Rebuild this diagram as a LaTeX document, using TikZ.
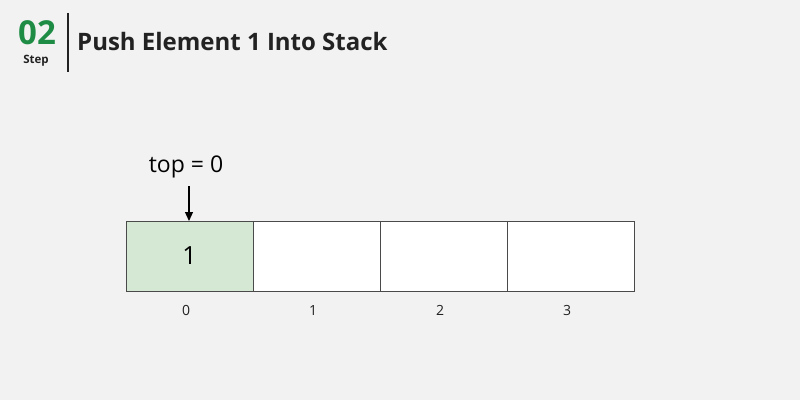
\documentclass[tikz,border=0pt]{standalone}
\usepackage{fontspec}
\setmainfont{Open Sans}
\usetikzlibrary{calc,arrows.meta}
\definecolor{bggray}{HTML}{F2F2F2}
\definecolor{stepgreen}{HTML}{1E8C45}
\definecolor{cellgreen}{HTML}{D5E8D4}
\definecolor{cellline}{HTML}{4A4A4A}
\definecolor{inktext}{HTML}{222222}
\tikzset{
  cell/.style={draw=cellline,line width=0.9pt,fill=white,minimum width=127pt,minimum height=70pt,inner sep=0pt,outer sep=0pt},
  idx/.style={font=\fontsize{14}{14}\selectfont,text=inktext},
}
\begin{document}
\begin{tikzpicture}[x=1pt,y=1pt]
	%FOND
	\fill[bggray] (0,0) rectangle (800,400);
	\useasboundingbox (0,0) rectangle (800,400);
	
	%ENTETE
	\node[text=stepgreen,font=\bfseries\fontsize{33}{33}\selectfont,inner sep=0pt,text depth=0pt] (num) at (37,367) {02};
	\node[anchor=base,text=inktext,font=\bfseries\fontsize{11.5}{11.5}\selectfont,inner sep=0pt,text height=9pt,text depth=0pt] (steplbl) at (36,337) {Step};
	\draw[inktext,line width=1.3pt] (68,387) coordinate (sepA) -- (68,328) coordinate (sepB);
	\node[anchor=west,text=inktext,font=\bfseries\fontsize{24}{24}\selectfont,inner sep=0pt] (title) at (77,358) {Push Element 1 Into Stack};
	
	%PILE
	\foreach \i in {0,...,3}{
		\node[cell] (c\i) at (189.5+127*\i,144) {};
		\node[idx] (i\i) at (186+127*\i,90) {\i};
	}
	\node[cell,fill=cellgreen] (c0) at (189.5,144) {};
	\node[font=\fontsize{25}{25}\selectfont,text=black] (v0) at (c0) {1};
	
	%SOMMET
	\node[font=\fontsize{23}{23}\selectfont,text=black,inner sep=2pt] (top) at (186,233) {top = 0};
	\draw[-{Triangle[length=9pt,width=8pt]},line width=1.2pt] (189,214) -- (c0.north -| 189,0);
	
\end{tikzpicture}
\end{document}
